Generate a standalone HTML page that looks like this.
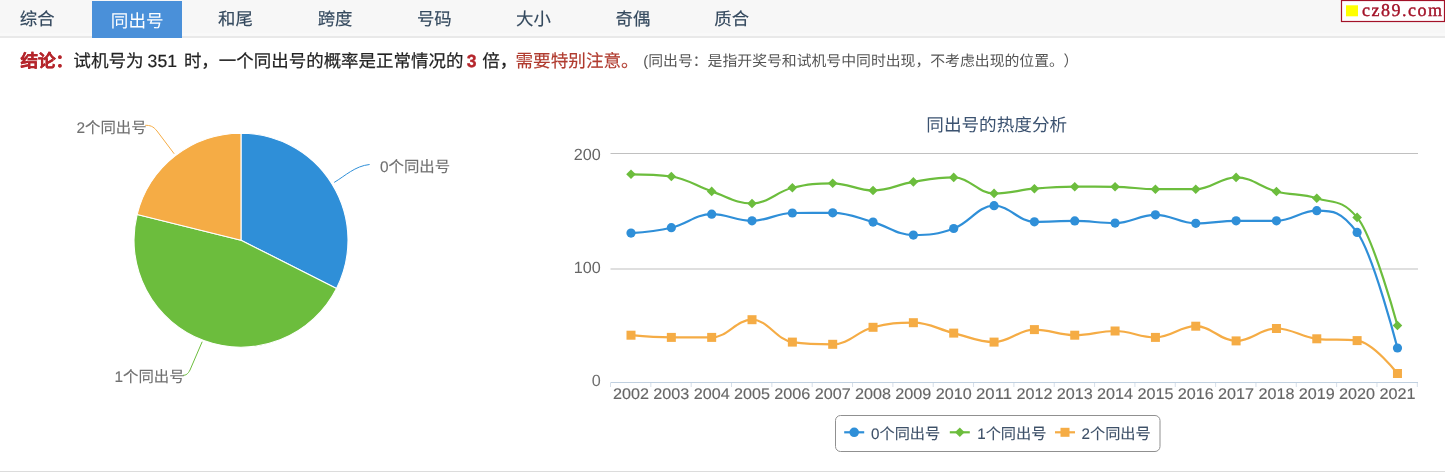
<!DOCTYPE html>
<html lang="zh-CN"><head><meta charset="utf-8"><title>同出号</title>
<style>
html,body{margin:0;padding:0;background:#fff;width:1445px;height:474px;overflow:hidden}
svg{display:block;font-family:"Liberation Sans",sans-serif;text-rendering:geometricPrecision;will-change:transform}
</style></head><body>
<svg width="1445" height="474" viewBox="0 0 1445 474">
<rect x="0" y="0" width="1445" height="36" fill="#f7f7f7"/>
<rect x="0" y="33" width="1445" height="3" fill="#f9f9f9"/>
<rect x="0" y="36" width="1445" height="2" fill="#e9e9e9"/>
<rect x="92" y="1" width="90" height="37" fill="#4a90d9"/>
<text x="37.2" y="24.8" text-anchor="middle" font-size="17.4" fill="#34495e" stroke="#34495e" stroke-width="0.15">综合</text>
<text x="137.2" y="27.2" text-anchor="middle" font-size="17.6" fill="#fff">同出号</text>
<text x="235.5" y="24.8" text-anchor="middle" font-size="17.4" fill="#34495e" stroke="#34495e" stroke-width="0.15">和尾</text>
<text x="335.1" y="24.8" text-anchor="middle" font-size="17.4" fill="#34495e" stroke="#34495e" stroke-width="0.15">跨度</text>
<text x="434.3" y="24.8" text-anchor="middle" font-size="17.4" fill="#34495e" stroke="#34495e" stroke-width="0.15">号码</text>
<text x="533.4" y="24.8" text-anchor="middle" font-size="17.4" fill="#34495e" stroke="#34495e" stroke-width="0.15">大小</text>
<text x="633.0" y="24.8" text-anchor="middle" font-size="17.4" fill="#34495e" stroke="#34495e" stroke-width="0.15">奇偶</text>
<text x="731.7" y="24.8" text-anchor="middle" font-size="17.4" fill="#34495e" stroke="#34495e" stroke-width="0.15">质合</text>
<rect x="1341.5" y="0.5" width="103" height="21" fill="#fff" stroke="#a31228" stroke-width="1.2"/>
<rect x="1346" y="5.3" width="12" height="11" fill="#ffff00"/>
<text x="1362" y="16" font-family="Liberation Serif" font-size="18" letter-spacing="1.5" fill="#a31228" stroke="#a31228" stroke-width="0.4">cz89.com</text>
<text x="20.40" y="66.6" font-size="17.6" fill="#b5262c" stroke="#b5262c" stroke-width="0.35" font-weight="bold">结论：</text>
<text x="73.30" y="66.6" font-size="17.6" fill="#222" stroke="#222" stroke-width="0.2">试机号为</text>
<text x="147.60" y="66.6" font-size="17.6" fill="#222" stroke="#222" stroke-width="0.2">351</text>
<text x="183.90" y="66.6" font-size="17.48" fill="#222" stroke="#222" stroke-width="0.2">时，一个同出号的概率是正常情况的</text>
<text x="466.70" y="66.6" font-size="17.6" fill="#b5262c" stroke="#b5262c" stroke-width="0.35" font-weight="bold">3</text>
<text x="482.20" y="66.6" font-size="17.6" fill="#222" stroke="#222" stroke-width="0.2">倍，</text>
<text x="515.50" y="66.6" font-size="17.6" fill="#b03a2e" stroke="#b03a2e" stroke-width="0.15">需要特别注意。</text>
<text x="643.30" y="66" font-size="14.85" fill="#555">(同出号：是指开奖号和试机号中同时出现，不考虑出现的位置。<tspan dx="7">）</tspan></text>
<path d="M 241.0 240.2 L 241.00 133.20 A 107.0 107.0 0 0 1 336.51 288.44 Z" fill="#2f8fd8" stroke="#fff" stroke-width="1.1" stroke-linejoin="round"/>
<path d="M 241.0 240.2 L 336.51 288.44 A 107.0 107.0 0 0 1 137.13 214.50 Z" fill="#6cbd3d" stroke="#fff" stroke-width="1.1" stroke-linejoin="round"/>
<path d="M 241.0 240.2 L 137.13 214.50 A 107.0 107.0 0 0 1 241.00 133.20 Z" fill="#f5ac45" stroke="#fff" stroke-width="1.1" stroke-linejoin="round"/>
<path d="M 334.2 182.4 C 345 176 355 166 369.6 164.5" fill="none" stroke="#2f8fd8" stroke-width="1"/>
<path d="M 174.2 153.8 L 157 131 C 153 126 150 125.3 145.2 125.3" fill="none" stroke="#f5ac45" stroke-width="1"/>
<path d="M 202.2 341.7 L 190 370 C 188 374 186 375.3 183 375.3" fill="none" stroke="#6cbd3d" stroke-width="1"/>
<text x="380" y="172.4" font-size="15.4" fill="#707070" stroke="#707070" stroke-width="0.12">0个同出号</text>
<text x="76.5" y="132.6" font-size="15.4" fill="#707070" stroke="#707070" stroke-width="0.12">2个同出号</text>
<text x="114.5" y="382.4" font-size="15.4" fill="#707070" stroke="#707070" stroke-width="0.12">1个同出号</text>
<text x="996.7" y="131.3" text-anchor="middle" font-size="17.6" fill="#3b5270">同出号的热度分析</text>
<rect x="610.5" y="153" width="807.5" height="1" fill="#c0c0c0"/>
<rect x="610.5" y="268.5" width="807.5" height="1" fill="#c0c0c0"/>
<rect x="610.5" y="382" width="807.5" height="1" fill="#c0d0e0"/>
<rect x="610.00" y="383" width="1" height="4" fill="#d5dee8"/>
<rect x="650.34" y="383" width="1" height="4" fill="#d5dee8"/>
<rect x="690.68" y="383" width="1" height="4" fill="#d5dee8"/>
<rect x="731.02" y="383" width="1" height="4" fill="#d5dee8"/>
<rect x="771.36" y="383" width="1" height="4" fill="#d5dee8"/>
<rect x="811.70" y="383" width="1" height="4" fill="#d5dee8"/>
<rect x="852.04" y="383" width="1" height="4" fill="#d5dee8"/>
<rect x="892.38" y="383" width="1" height="4" fill="#d5dee8"/>
<rect x="932.72" y="383" width="1" height="4" fill="#d5dee8"/>
<rect x="973.06" y="383" width="1" height="4" fill="#d5dee8"/>
<rect x="1013.40" y="383" width="1" height="4" fill="#d5dee8"/>
<rect x="1053.74" y="383" width="1" height="4" fill="#d5dee8"/>
<rect x="1094.08" y="383" width="1" height="4" fill="#d5dee8"/>
<rect x="1134.42" y="383" width="1" height="4" fill="#d5dee8"/>
<rect x="1174.76" y="383" width="1" height="4" fill="#d5dee8"/>
<rect x="1215.10" y="383" width="1" height="4" fill="#d5dee8"/>
<rect x="1255.44" y="383" width="1" height="4" fill="#d5dee8"/>
<rect x="1295.78" y="383" width="1" height="4" fill="#d5dee8"/>
<rect x="1336.12" y="383" width="1" height="4" fill="#d5dee8"/>
<rect x="1376.46" y="383" width="1" height="4" fill="#d5dee8"/>
<rect x="1416.80" y="383" width="1" height="4" fill="#d5dee8"/>
<text x="631.00" y="399" text-anchor="middle" font-size="15.4" textLength="36" lengthAdjust="spacingAndGlyphs" fill="#666" stroke="#666" stroke-width="0.15">2002</text>
<text x="671.34" y="399" text-anchor="middle" font-size="15.4" textLength="36" lengthAdjust="spacingAndGlyphs" fill="#666" stroke="#666" stroke-width="0.15">2003</text>
<text x="711.68" y="399" text-anchor="middle" font-size="15.4" textLength="36" lengthAdjust="spacingAndGlyphs" fill="#666" stroke="#666" stroke-width="0.15">2004</text>
<text x="752.02" y="399" text-anchor="middle" font-size="15.4" textLength="36" lengthAdjust="spacingAndGlyphs" fill="#666" stroke="#666" stroke-width="0.15">2005</text>
<text x="792.36" y="399" text-anchor="middle" font-size="15.4" textLength="36" lengthAdjust="spacingAndGlyphs" fill="#666" stroke="#666" stroke-width="0.15">2006</text>
<text x="832.70" y="399" text-anchor="middle" font-size="15.4" textLength="36" lengthAdjust="spacingAndGlyphs" fill="#666" stroke="#666" stroke-width="0.15">2007</text>
<text x="873.04" y="399" text-anchor="middle" font-size="15.4" textLength="36" lengthAdjust="spacingAndGlyphs" fill="#666" stroke="#666" stroke-width="0.15">2008</text>
<text x="913.38" y="399" text-anchor="middle" font-size="15.4" textLength="36" lengthAdjust="spacingAndGlyphs" fill="#666" stroke="#666" stroke-width="0.15">2009</text>
<text x="953.72" y="399" text-anchor="middle" font-size="15.4" textLength="36" lengthAdjust="spacingAndGlyphs" fill="#666" stroke="#666" stroke-width="0.15">2010</text>
<text x="994.06" y="399" text-anchor="middle" font-size="15.4" textLength="36" lengthAdjust="spacingAndGlyphs" fill="#666" stroke="#666" stroke-width="0.15">2011</text>
<text x="1034.40" y="399" text-anchor="middle" font-size="15.4" textLength="36" lengthAdjust="spacingAndGlyphs" fill="#666" stroke="#666" stroke-width="0.15">2012</text>
<text x="1074.74" y="399" text-anchor="middle" font-size="15.4" textLength="36" lengthAdjust="spacingAndGlyphs" fill="#666" stroke="#666" stroke-width="0.15">2013</text>
<text x="1115.08" y="399" text-anchor="middle" font-size="15.4" textLength="36" lengthAdjust="spacingAndGlyphs" fill="#666" stroke="#666" stroke-width="0.15">2014</text>
<text x="1155.42" y="399" text-anchor="middle" font-size="15.4" textLength="36" lengthAdjust="spacingAndGlyphs" fill="#666" stroke="#666" stroke-width="0.15">2015</text>
<text x="1195.76" y="399" text-anchor="middle" font-size="15.4" textLength="36" lengthAdjust="spacingAndGlyphs" fill="#666" stroke="#666" stroke-width="0.15">2016</text>
<text x="1236.10" y="399" text-anchor="middle" font-size="15.4" textLength="36" lengthAdjust="spacingAndGlyphs" fill="#666" stroke="#666" stroke-width="0.15">2017</text>
<text x="1276.44" y="399" text-anchor="middle" font-size="15.4" textLength="36" lengthAdjust="spacingAndGlyphs" fill="#666" stroke="#666" stroke-width="0.15">2018</text>
<text x="1316.78" y="399" text-anchor="middle" font-size="15.4" textLength="36" lengthAdjust="spacingAndGlyphs" fill="#666" stroke="#666" stroke-width="0.15">2019</text>
<text x="1357.12" y="399" text-anchor="middle" font-size="15.4" textLength="36" lengthAdjust="spacingAndGlyphs" fill="#666" stroke="#666" stroke-width="0.15">2020</text>
<text x="1397.46" y="399" text-anchor="middle" font-size="15.4" textLength="36" lengthAdjust="spacingAndGlyphs" fill="#666" stroke="#666" stroke-width="0.15">2021</text>
<text x="600.7" y="159.6" text-anchor="end" font-size="16.2" fill="#666">200</text>
<text x="600.7" y="272.6" text-anchor="end" font-size="16.2" fill="#666">100</text>
<text x="600.7" y="386.4" text-anchor="end" font-size="16.2" fill="#707070">0</text>
<path d="M 631.00 233.10 C 631.00 233.10 655.20 231.48 671.34 227.70 C 687.48 223.92 695.54 214.20 711.68 214.20 C 727.82 214.20 735.88 220.80 752.02 220.80 C 768.16 220.80 776.22 213.20 792.36 213.00 C 808.50 212.80 816.56 212.80 832.70 212.80 C 848.84 212.80 856.90 217.64 873.04 222.10 C 889.18 226.56 897.24 235.10 913.38 235.10 C 929.52 235.10 937.58 234.38 953.72 228.50 C 969.86 222.62 977.92 205.70 994.06 205.70 C 1010.20 205.70 1018.26 221.80 1034.40 221.80 C 1050.54 221.80 1058.60 220.90 1074.74 220.90 C 1090.88 220.90 1098.94 223.10 1115.08 223.10 C 1131.22 223.10 1139.28 214.80 1155.42 214.80 C 1171.56 214.80 1179.62 223.30 1195.76 223.30 C 1211.90 223.30 1219.96 220.80 1236.10 220.80 C 1252.24 220.80 1260.30 220.80 1276.44 220.80 C 1292.58 220.80 1300.64 210.70 1316.78 210.70 C 1332.92 210.70 1340.98 210.70 1357.12 232.40 C 1373.26 254.10 1397.46 348.00 1397.46 348.00" fill="none" stroke="#2f8fd8" stroke-width="2.2" stroke-linejoin="round" stroke-linecap="round"/>
<path d="M 631.00 174.30 C 631.00 174.30 655.20 174.30 671.34 176.50 C 687.48 178.70 695.54 186.00 711.68 191.40 C 727.82 196.80 735.88 203.50 752.02 203.50 C 768.16 203.50 776.22 191.84 792.36 187.80 C 808.50 183.76 816.56 183.30 832.70 183.30 C 848.84 183.30 856.90 190.50 873.04 190.50 C 889.18 190.50 897.24 184.52 913.38 181.90 C 929.52 179.28 937.58 177.40 953.72 177.40 C 969.86 177.40 977.92 193.40 994.06 193.40 C 1010.20 193.40 1018.26 190.04 1034.40 188.70 C 1050.54 187.36 1058.60 186.70 1074.74 186.70 C 1090.88 186.70 1098.94 186.70 1115.08 186.80 C 1131.22 186.90 1139.28 189.20 1155.42 189.20 C 1171.56 189.20 1179.62 189.20 1195.76 189.20 C 1211.90 189.20 1219.96 177.40 1236.10 177.40 C 1252.24 177.40 1260.30 187.32 1276.44 191.50 C 1292.58 195.68 1300.64 193.12 1316.78 198.30 C 1332.92 203.48 1340.98 198.30 1357.12 217.40 C 1373.26 236.50 1397.46 325.50 1397.46 325.50" fill="none" stroke="#6cbd3d" stroke-width="2.2" stroke-linejoin="round" stroke-linecap="round"/>
<path d="M 631.00 335.20 C 631.00 335.20 655.20 337.40 671.34 337.40 C 687.48 337.40 695.54 337.40 711.68 337.40 C 727.82 337.40 735.88 319.70 752.02 319.70 C 768.16 319.70 776.22 339.90 792.36 342.10 C 808.50 344.30 816.56 344.30 832.70 344.30 C 848.84 344.30 856.90 331.62 873.04 327.30 C 889.18 322.98 897.24 322.70 913.38 322.70 C 929.52 322.70 937.58 329.22 953.72 333.10 C 969.86 336.98 977.92 342.10 994.06 342.10 C 1010.20 342.10 1018.26 329.60 1034.40 329.60 C 1050.54 329.60 1058.60 335.20 1074.74 335.20 C 1090.88 335.20 1098.94 331.00 1115.08 331.00 C 1131.22 331.00 1139.28 337.40 1155.42 337.40 C 1171.56 337.40 1179.62 326.20 1195.76 326.20 C 1211.90 326.20 1219.96 340.90 1236.10 340.90 C 1252.24 340.90 1260.30 328.50 1276.44 328.50 C 1292.58 328.50 1300.64 337.00 1316.78 338.80 C 1332.92 340.60 1340.98 338.80 1357.12 340.60 C 1373.26 342.40 1397.46 373.50 1397.46 373.50" fill="none" stroke="#f5ac45" stroke-width="2.2" stroke-linejoin="round" stroke-linecap="round"/>
<circle cx="631.00" cy="233.1" r="4.6" fill="#2f8fd8"/>
<circle cx="671.34" cy="227.7" r="4.6" fill="#2f8fd8"/>
<circle cx="711.68" cy="214.2" r="4.6" fill="#2f8fd8"/>
<circle cx="752.02" cy="220.8" r="4.6" fill="#2f8fd8"/>
<circle cx="792.36" cy="213.0" r="4.6" fill="#2f8fd8"/>
<circle cx="832.70" cy="212.8" r="4.6" fill="#2f8fd8"/>
<circle cx="873.04" cy="222.1" r="4.6" fill="#2f8fd8"/>
<circle cx="913.38" cy="235.1" r="4.6" fill="#2f8fd8"/>
<circle cx="953.72" cy="228.5" r="4.6" fill="#2f8fd8"/>
<circle cx="994.06" cy="205.7" r="4.6" fill="#2f8fd8"/>
<circle cx="1034.40" cy="221.8" r="4.6" fill="#2f8fd8"/>
<circle cx="1074.74" cy="220.9" r="4.6" fill="#2f8fd8"/>
<circle cx="1115.08" cy="223.1" r="4.6" fill="#2f8fd8"/>
<circle cx="1155.42" cy="214.8" r="4.6" fill="#2f8fd8"/>
<circle cx="1195.76" cy="223.3" r="4.6" fill="#2f8fd8"/>
<circle cx="1236.10" cy="220.8" r="4.6" fill="#2f8fd8"/>
<circle cx="1276.44" cy="220.8" r="4.6" fill="#2f8fd8"/>
<circle cx="1316.78" cy="210.7" r="4.6" fill="#2f8fd8"/>
<circle cx="1357.12" cy="232.4" r="4.6" fill="#2f8fd8"/>
<circle cx="1397.46" cy="348.0" r="4.6" fill="#2f8fd8"/>
<path d="M 626.20 174.3 L 631.00 169.50 L 635.80 174.3 L 631.00 179.10 Z" fill="#6cbd3d"/>
<path d="M 666.54 176.5 L 671.34 171.70 L 676.14 176.5 L 671.34 181.30 Z" fill="#6cbd3d"/>
<path d="M 706.88 191.4 L 711.68 186.60 L 716.48 191.4 L 711.68 196.20 Z" fill="#6cbd3d"/>
<path d="M 747.22 203.5 L 752.02 198.70 L 756.82 203.5 L 752.02 208.30 Z" fill="#6cbd3d"/>
<path d="M 787.56 187.8 L 792.36 183.00 L 797.16 187.8 L 792.36 192.60 Z" fill="#6cbd3d"/>
<path d="M 827.90 183.3 L 832.70 178.50 L 837.50 183.3 L 832.70 188.10 Z" fill="#6cbd3d"/>
<path d="M 868.24 190.5 L 873.04 185.70 L 877.84 190.5 L 873.04 195.30 Z" fill="#6cbd3d"/>
<path d="M 908.58 181.9 L 913.38 177.10 L 918.18 181.9 L 913.38 186.70 Z" fill="#6cbd3d"/>
<path d="M 948.92 177.4 L 953.72 172.60 L 958.52 177.4 L 953.72 182.20 Z" fill="#6cbd3d"/>
<path d="M 989.26 193.4 L 994.06 188.60 L 998.86 193.4 L 994.06 198.20 Z" fill="#6cbd3d"/>
<path d="M 1029.60 188.7 L 1034.40 183.90 L 1039.20 188.7 L 1034.40 193.50 Z" fill="#6cbd3d"/>
<path d="M 1069.94 186.7 L 1074.74 181.90 L 1079.54 186.7 L 1074.74 191.50 Z" fill="#6cbd3d"/>
<path d="M 1110.28 186.8 L 1115.08 182.00 L 1119.88 186.8 L 1115.08 191.60 Z" fill="#6cbd3d"/>
<path d="M 1150.62 189.2 L 1155.42 184.40 L 1160.22 189.2 L 1155.42 194.00 Z" fill="#6cbd3d"/>
<path d="M 1190.96 189.2 L 1195.76 184.40 L 1200.56 189.2 L 1195.76 194.00 Z" fill="#6cbd3d"/>
<path d="M 1231.30 177.4 L 1236.10 172.60 L 1240.90 177.4 L 1236.10 182.20 Z" fill="#6cbd3d"/>
<path d="M 1271.64 191.5 L 1276.44 186.70 L 1281.24 191.5 L 1276.44 196.30 Z" fill="#6cbd3d"/>
<path d="M 1311.98 198.3 L 1316.78 193.50 L 1321.58 198.3 L 1316.78 203.10 Z" fill="#6cbd3d"/>
<path d="M 1352.32 217.4 L 1357.12 212.60 L 1361.92 217.4 L 1357.12 222.20 Z" fill="#6cbd3d"/>
<path d="M 1392.66 325.5 L 1397.46 320.70 L 1402.26 325.5 L 1397.46 330.30 Z" fill="#6cbd3d"/>
<rect x="626.50" y="330.70" width="9" height="9" fill="#f5ac45"/>
<rect x="666.84" y="332.90" width="9" height="9" fill="#f5ac45"/>
<rect x="707.18" y="332.90" width="9" height="9" fill="#f5ac45"/>
<rect x="747.52" y="315.20" width="9" height="9" fill="#f5ac45"/>
<rect x="787.86" y="337.60" width="9" height="9" fill="#f5ac45"/>
<rect x="828.20" y="339.80" width="9" height="9" fill="#f5ac45"/>
<rect x="868.54" y="322.80" width="9" height="9" fill="#f5ac45"/>
<rect x="908.88" y="318.20" width="9" height="9" fill="#f5ac45"/>
<rect x="949.22" y="328.60" width="9" height="9" fill="#f5ac45"/>
<rect x="989.56" y="337.60" width="9" height="9" fill="#f5ac45"/>
<rect x="1029.90" y="325.10" width="9" height="9" fill="#f5ac45"/>
<rect x="1070.24" y="330.70" width="9" height="9" fill="#f5ac45"/>
<rect x="1110.58" y="326.50" width="9" height="9" fill="#f5ac45"/>
<rect x="1150.92" y="332.90" width="9" height="9" fill="#f5ac45"/>
<rect x="1191.26" y="321.70" width="9" height="9" fill="#f5ac45"/>
<rect x="1231.60" y="336.40" width="9" height="9" fill="#f5ac45"/>
<rect x="1271.94" y="324.00" width="9" height="9" fill="#f5ac45"/>
<rect x="1312.28" y="334.30" width="9" height="9" fill="#f5ac45"/>
<rect x="1352.62" y="336.10" width="9" height="9" fill="#f5ac45"/>
<rect x="1392.96" y="369.00" width="9" height="9" fill="#f5ac45"/>
<rect x="835.5" y="415.5" width="324.5" height="36" rx="5" ry="5" fill="#fff" stroke="#909090" stroke-width="1"/>
<rect x="844.2" y="431.2" width="20" height="2.2" fill="#2f8fd8"/>
<circle cx="854.2" cy="432.3" r="4.8" fill="#2f8fd8"/>
<text x="871" y="438.7" font-size="15.2" fill="#3d5068" stroke="#3d5068" stroke-width="0.12">0个同出号</text>
<rect x="949.8" y="431.2" width="20" height="2.2" fill="#6cbd3d"/>
<path d="M 955.0 432.3 L 959.8 427.5 L 964.5999999999999 432.3 L 959.8 437.1 Z" fill="#6cbd3d"/>
<text x="977.2" y="438.7" font-size="15.2" fill="#3d5068" stroke="#3d5068" stroke-width="0.12">1个同出号</text>
<rect x="1055" y="431.2" width="20" height="2.2" fill="#f5ac45"/>
<rect x="1060.5" y="427.8" width="9" height="9" fill="#f5ac45"/>
<text x="1081.5" y="438.7" font-size="15.2" fill="#3d5068" stroke="#3d5068" stroke-width="0.12">2个同出号</text>
<rect x="0" y="471" width="1445" height="1" fill="#dcdcdc"/>
</svg>
</body></html>
